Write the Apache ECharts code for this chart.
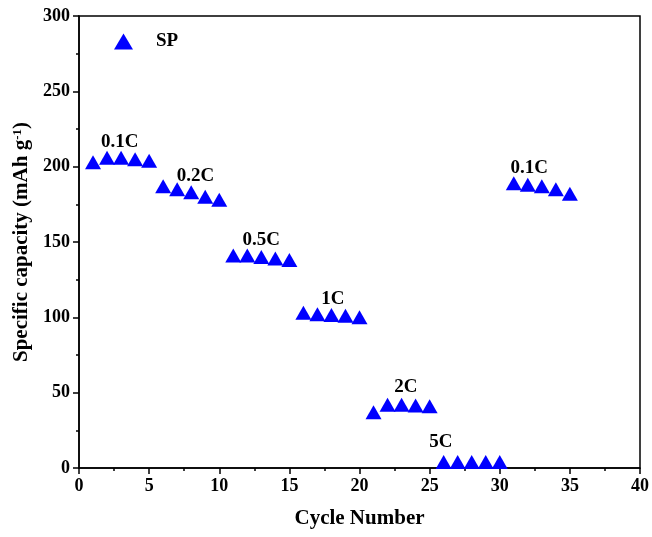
<!DOCTYPE html>
<html>
<head>
<meta charset="utf-8">
<script src="https://cdn.jsdelivr.net/npm/echarts@6/dist/echarts.min.js"></script>
<style>
  html, body { margin: 0; padding: 0; background: #fff; }
  #chart { width: 652px; height: 537px; }
</style>
</head>
<body>
<div id="chart"></div>
<script>
// cycle numbers and capacity (mAh/g)
const cycles = [1,2,3,4,5,6,7,8,9,10,11,12,13,14,15,16,17,18,19,20,21,22,23,24,25,26,27,28,29,30,31,32,33,34,35];
const capacity = [
  203, 206, 206, 205, 204,
  187, 185, 183, 180, 178,
  141, 141, 140, 139, 138,
  103, 102, 101.5, 101, 100,
  37, 42, 42, 41.5, 41,
  4, 4, 4, 4, 4,
  189, 188, 187, 185, 182
];
// rate labels
const rateNames = ['0.1C', '0.2C', '0.5C', '1C', '2C', '5C', '0.1C'];
const rateX = [2.9, 8.3, 13.0, 18.1, 23.3, 25.8, 32.1];
const rateY = [216, 194, 151, 112, 54, 17, 199];
const xTicks = [0, 40, 5];
const yTicks = [0, 300, 50];

const font = '"Liberation Serif", "DejaVu Serif", serif';

let chart = echarts.init(document.getElementById('chart'));
chart.setOption({
  animation: false,
  grid: {
    left: 79, right: 11, top: 16, bottom: 69,
    show: true, borderColor: '#000', borderWidth: 1.5, backgroundColor: 'transparent'
  },
  legend: {
    left: 109, top: 27,
    itemWidth: 19, itemHeight: 16, itemGap: 10,
    textStyle: { fontFamily: font, fontWeight: 'bold', fontSize: 19, color: '#000', padding: [0, 0, 0, 18] },
    data: [{ name: 'SP', icon: 'triangle', itemStyle: { opacity: 1 } }]
  },
  xAxis: {
    type: 'value',
    min: xTicks[0], max: xTicks[1], interval: xTicks[2],
    name: 'Cycle Number',
    nameLocation: 'middle', nameGap: 40,
    nameTextStyle: { fontFamily: font, fontWeight: 'bold', fontSize: 21, color: '#000' },
    axisLine: { lineStyle: { color: '#000', width: 1.5 } },
    axisTick: { inside: false, length: 6, lineStyle: { color: '#000', width: 1.5 } },
    minorTick: { show: true, splitNumber: 2, length: 3, lineStyle: { color: '#000', width: 1.5 } },
    splitLine: { show: false },
    axisLabel: { fontFamily: font, fontWeight: 'bold', fontSize: 18, color: '#000', margin: 9 }
  },
  yAxis: {
    type: 'value',
    min: yTicks[0], max: yTicks[1], interval: yTicks[2],
    name: '{t|Specific capacity (mAh g}{s|-1}{t|)}',
    nameLocation: 'middle', nameGap: 43,
    nameTextStyle: {
      rich: {
        t: { fontFamily: font, fontWeight: 'bold', fontSize: 21, color: '#000' },
        s: { fontFamily: font, fontWeight: 'bold', fontSize: 13, color: '#000', verticalAlign: 'top', padding: [0, 0, 8, 0] }
      }
    },
    axisLine: { lineStyle: { color: '#000', width: 1.5 } },
    axisTick: { inside: false, length: 6, lineStyle: { color: '#000', width: 1.5 } },
    minorTick: { show: true, splitNumber: 2, length: 3, lineStyle: { color: '#000', width: 1.5 } },
    splitLine: { show: false },
    axisLabel: { fontFamily: font, fontWeight: 'bold', fontSize: 18, color: '#000', margin: 9 }
  },
  series: [
    {
      name: 'SP',
      type: 'scatter',
      symbol: 'triangle',
      symbolSize: [16, 14],
      itemStyle: { color: '#0000ff', opacity: 1 },
      data: cycles.map((c, i) => [c, capacity[i]])
    },
    {
      name: 'rates',
      type: 'scatter',
      symbolSize: 0,
      silent: true,
      itemStyle: { opacity: 1 },
      label: {
        show: true, position: 'inside',
        formatter: p => p.data.name,
        fontFamily: font, fontWeight: 'bold', fontSize: 19, color: '#000'
      },
      data: rateNames.map((n, i) => ({ name: n, value: [rateX[i], rateY[i]] }))
    }
  ]
});
</script>
</body>
</html>
